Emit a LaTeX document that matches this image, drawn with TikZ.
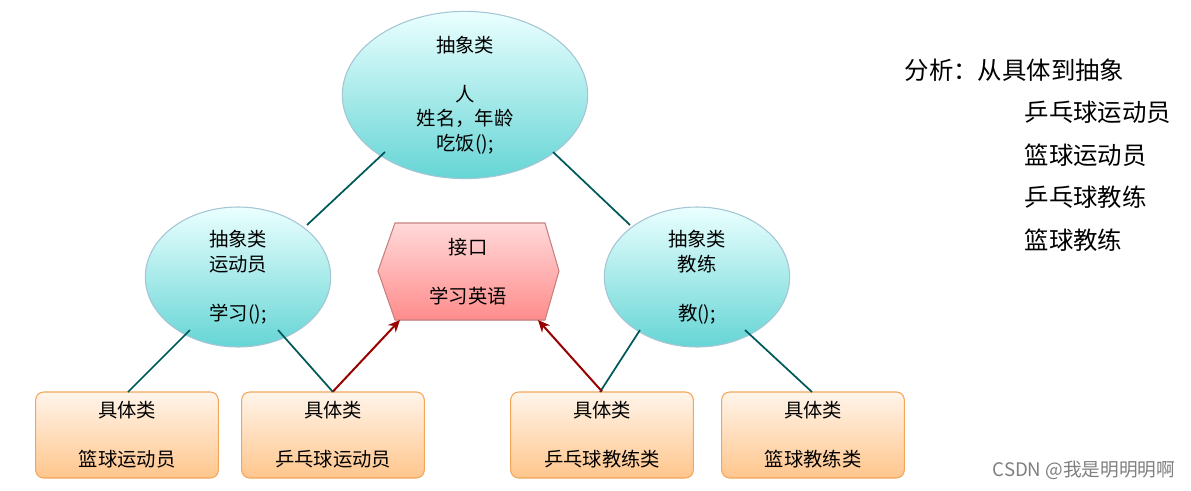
\documentclass[tikz,border=0pt]{standalone}
\usepackage{fontspec}
\setmainfont{Noto Sans CJK SC}
\usetikzlibrary{shapes.geometric,arrows.meta}
\begin{document}
\begin{tikzpicture}[x=0.75pt,y=-0.75pt,
  txt/.style={font=\fontsize{14.5}{18.4}\selectfont,align=center,text=black},
  ell/.style={ellipse,draw=cyan!40!gray!60,line width=0.8pt,top color=cyan!8,bottom color=cyan!45!teal!60!white,txt,inner sep=0pt},
  box/.style={rectangle,rounded corners=6pt,draw=orange!70!brown!70,line width=0.8pt,top color=orange!8,bottom color=orange!45,txt,minimum width=137pt,minimum height=64.5pt},
  link/.style={draw=teal!70!black,line width=1.3pt},
  side/.style={anchor=west,font=\fontsize{18.3}{22}\selectfont},
  arr/.style={draw=red!60!black,line width=1.5pt,-{Stealth[length=9pt,width=8pt]}}]
\useasboundingbox[fill=white] (0,0) rectangle (1191,490);
\node[ell,minimum width=184pt,minimum height=112pt] (top) at (465,95) {抽象类\\~\\人\\姓名，年龄\\吃饭();};
\node[ell,minimum width=139pt,minimum height=105pt] (le) at (238,277) {抽象类\\运动员\\~\\学习();};
\node[ell,minimum width=139pt,minimum height=105pt] (re) at (697,277) {抽象类\\教练\\~\\教();};
\filldraw[draw=red!40!gray!70,line width=0.8pt,top color=red!15,bottom color=red!45!white] (395,223) -- (545,223) -- (559,271) -- (545,320) -- (395,320) -- (378,271) -- cycle;
\node[txt] (hex) at (468,272) {接口\\~\\学习英语};
\coordinate (hl) at (400,320);
\coordinate (hr) at (538,320);
\node[box] (b1) at (127,435) {具体类\\~\\篮球运动员};
\node[box] (b2) at (333,435) {具体类\\~\\乒乓球运动员};
\node[box] (b3) at (602,435) {具体类\\~\\乒乓球教练类};
\node[box] (b4) at (813,435) {具体类\\~\\篮球教练类};
\draw[link] (385,152) -- (307,225);
\draw[link] (553,152) -- (630,225);
\draw[link] (190,330) -- (128,392);
\draw[link] (278,330) -- (333,392);
\draw[link] (640,330) -- (600,392);
\draw[link] (745,330) -- (812,392);
\draw[arr] (b2.north) -- (hl);
\draw[arr] (b3.north) -- (hr);
\node[side] (ana) at (900,70) {分析：从具体到抽象};
\node[side] (i1) at (1020,112) {乒乓球运动员};
\node[side] (i2) at (1020,155) {篮球运动员};
\node[side] (i3) at (1020,197) {乒乓球教练};
\node[side] (i4) at (1020,240) {篮球教练};
\node[anchor=east,font=\fontsize{14}{16}\selectfont,text=gray] (wm) at (1180,470) {CSDN @我是明明明啊};
\end{tikzpicture}
\end{document}
